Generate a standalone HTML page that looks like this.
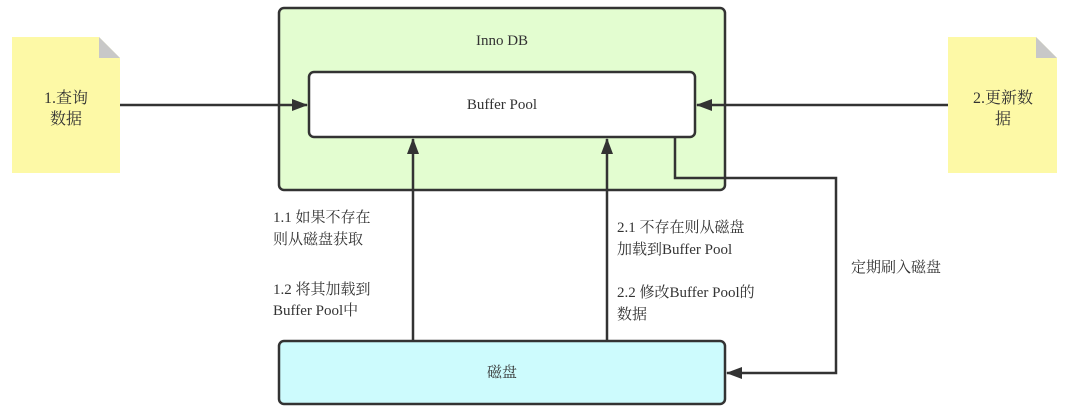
<!DOCTYPE html>
<html><head><meta charset="utf-8"><style>
body{margin:0;width:1067px;height:415px;background:#fff;overflow:hidden}
svg text{font-family:"Liberation Serif","Noto Serif CJK SC",serif;font-size:15px;fill:#333}
</style></head><body>
<svg width="1067" height="415" xmlns="http://www.w3.org/2000/svg">
<defs><marker id="b" markerWidth="16" markerHeight="12" refX="15" refY="6" orient="auto" markerUnits="userSpaceOnUse"><path d="M0,0L16,6L0,12Z" fill="#333"/></marker></defs>
<rect x="279" y="8" width="446" height="182" rx="5" fill="#e3fdd0" stroke="#333" stroke-width="2.5"/>
<text x="502" y="45" text-anchor="middle">Inno DB</text>
<rect x="309" y="72" width="386" height="65" rx="5" fill="#fff" stroke="#333" stroke-width="2.5"/>
<text x="502" y="109" text-anchor="middle">Buffer Pool</text>
<rect x="279" y="341" width="446" height="63" rx="5" fill="#cdfbfd" stroke="#333" stroke-width="2.5"/>
<text x="502" y="377" text-anchor="middle">磁盘</text>
<path d="M12,37H99L120,58V173H12Z" fill="#fdf9a6"/><path d="M99,37L120,58H99Z" fill="#c8c8c8"/>
<text x="66" y="103" text-anchor="middle" style="font-size:16px">1.查询</text><text x="66" y="124" text-anchor="middle" style="font-size:16px">数据</text>
<path d="M948,37H1036L1057,58V173H948Z" fill="#fdf9a6"/><path d="M1036,37L1057,58H1036Z" fill="#c8c8c8"/>
<text x="1003" y="103" text-anchor="middle" style="font-size:16px">2.更新数</text><text x="1003" y="124" text-anchor="middle" style="font-size:16px">据</text>
<g stroke="#333" stroke-width="2.5" fill="none">
<line x1="120" y1="105" x2="307" y2="105" marker-end="url(#b)"/>
<line x1="948" y1="105" x2="697" y2="105" marker-end="url(#b)"/>
<line x1="413" y1="341" x2="413" y2="139" marker-end="url(#b)"/>
<line x1="607" y1="341" x2="607" y2="139" marker-end="url(#b)"/>
<path d="M675,137V178H836V373H727" marker-end="url(#b)"/>
</g>
<text x="273" y="222">1.1 如果不存在</text><text x="273" y="244">则从磁盘获取</text>
<text x="273" y="294">1.2 将其加载到</text><text x="273" y="315">Buffer Pool中</text>
<text x="617" y="232">2.1 不存在则从磁盘</text><text x="617" y="254">加载到Buffer Pool</text>
<text x="617" y="297">2.2 修改Buffer Pool的</text><text x="617" y="319">数据</text>
<text x="851" y="272">定期刷入磁盘</text>
</svg></body></html>
